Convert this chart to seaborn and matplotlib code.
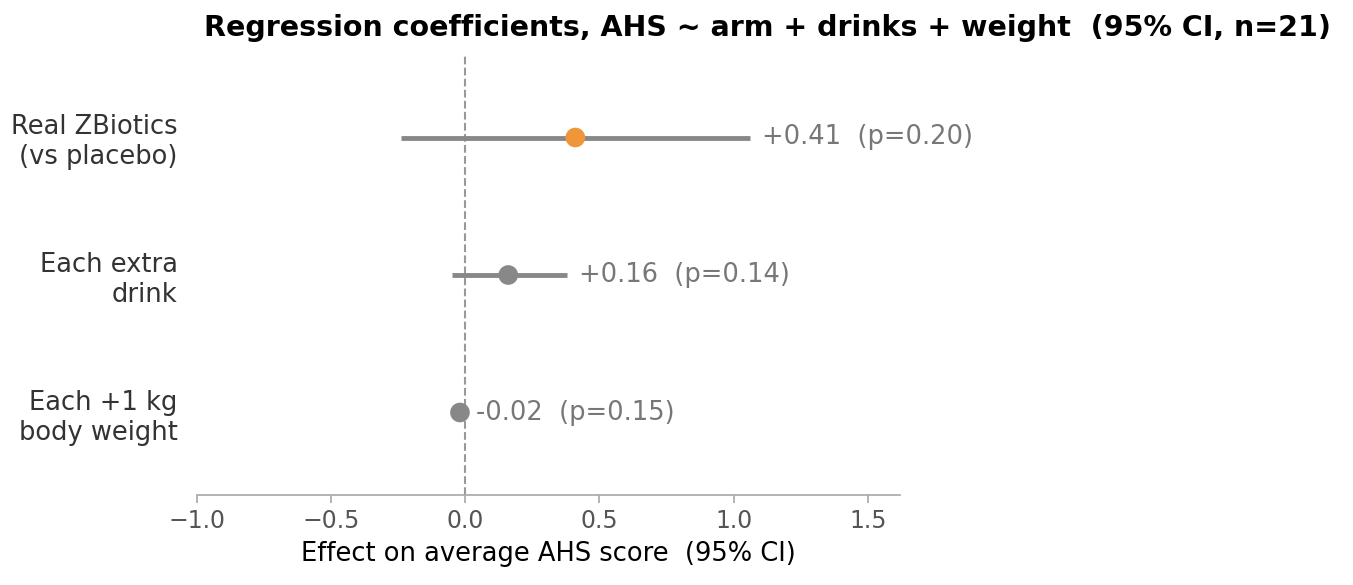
import matplotlib
matplotlib.use("Agg")
import matplotlib.pyplot as plt
import seaborn as sns
import pandas as pd

terms = ["Real ZBiotics\n(vs placebo)", "Each extra\ndrink", "Each +1 kg\nbody weight"]
est = [0.41, 0.16, -0.02]
lo = [-0.24, -0.05, -0.035]
hi = [1.06, 0.38, -0.005]
labels = ["+0.41  (p=0.20)", "+0.16  (p=0.14)", "-0.02  (p=0.15)"]
colors = ["#f0963a", "#888888", "#888888"]

sns.set_theme(style="white")
plt.rcParams['font.family'] = ['DejaVu Sans']
fig = plt.figure(figsize=(13.53, 5.85), dpi=100)
ax = fig.add_axes([197/1353, 1 - 495/585, 703/1353, (495 - 55)/585])

df = pd.DataFrame({"term": terms, "est": est, "lo": lo, "hi": hi})
for i, r in df.iterrows():
    ax.plot([r.lo, r.hi], [i, i], color="#888888", lw=3.5, solid_capstyle="butt", zorder=2)
    ax.text(r.hi + 0.045, i, labels[i], va="center", ha="left", color="#777777", fontsize=18.5)
sns.scatterplot(data=df, x="est", y=[0, 1, 2], hue="term", palette=colors, s=200,
                legend=False, ax=ax, zorder=3, edgecolor="none")
ax.axvline(0, color="#999999", ls="--", lw=1.5, zorder=1)
ax.set_xlim(-1.0, 1.62)
ax.set_ylim(2.6, -0.6)
ax.set_yticks([0, 1, 2])
ax.set_yticklabels(terms, fontsize=18.5, color="#333333")
ax.set_xticks([-1.0, -0.5, 0.0, 0.5, 1.0, 1.5])
ax.set_xticklabels(["\u22121.0", "\u22120.5", "0.0", "0.5", "1.0", "1.5"], fontsize=17, color="#555555")
ax.tick_params(axis="x", length=6, color="#aaaaaa", bottom=True, pad=4)
ax.tick_params(axis="y", length=0, pad=14)
for s in ["top", "right", "left"]:
    ax.spines[s].set_visible(False)
ax.spines["bottom"].set_color("#aaaaaa")
ax.set_xlabel("Effect on average AHS score  (95% CI)", fontsize=18.5, color="black", labelpad=6)
ax.set_ylabel("")
fig.text(767/1353, 1 - 28/585, "Regression coefficients, AHS ~ arm + drinks + weight  (95% CI, n=21)",
         ha="center", va="center", fontsize=20.5, fontweight="bold", color="black")
fig.savefig("out.png", dpi=100)
